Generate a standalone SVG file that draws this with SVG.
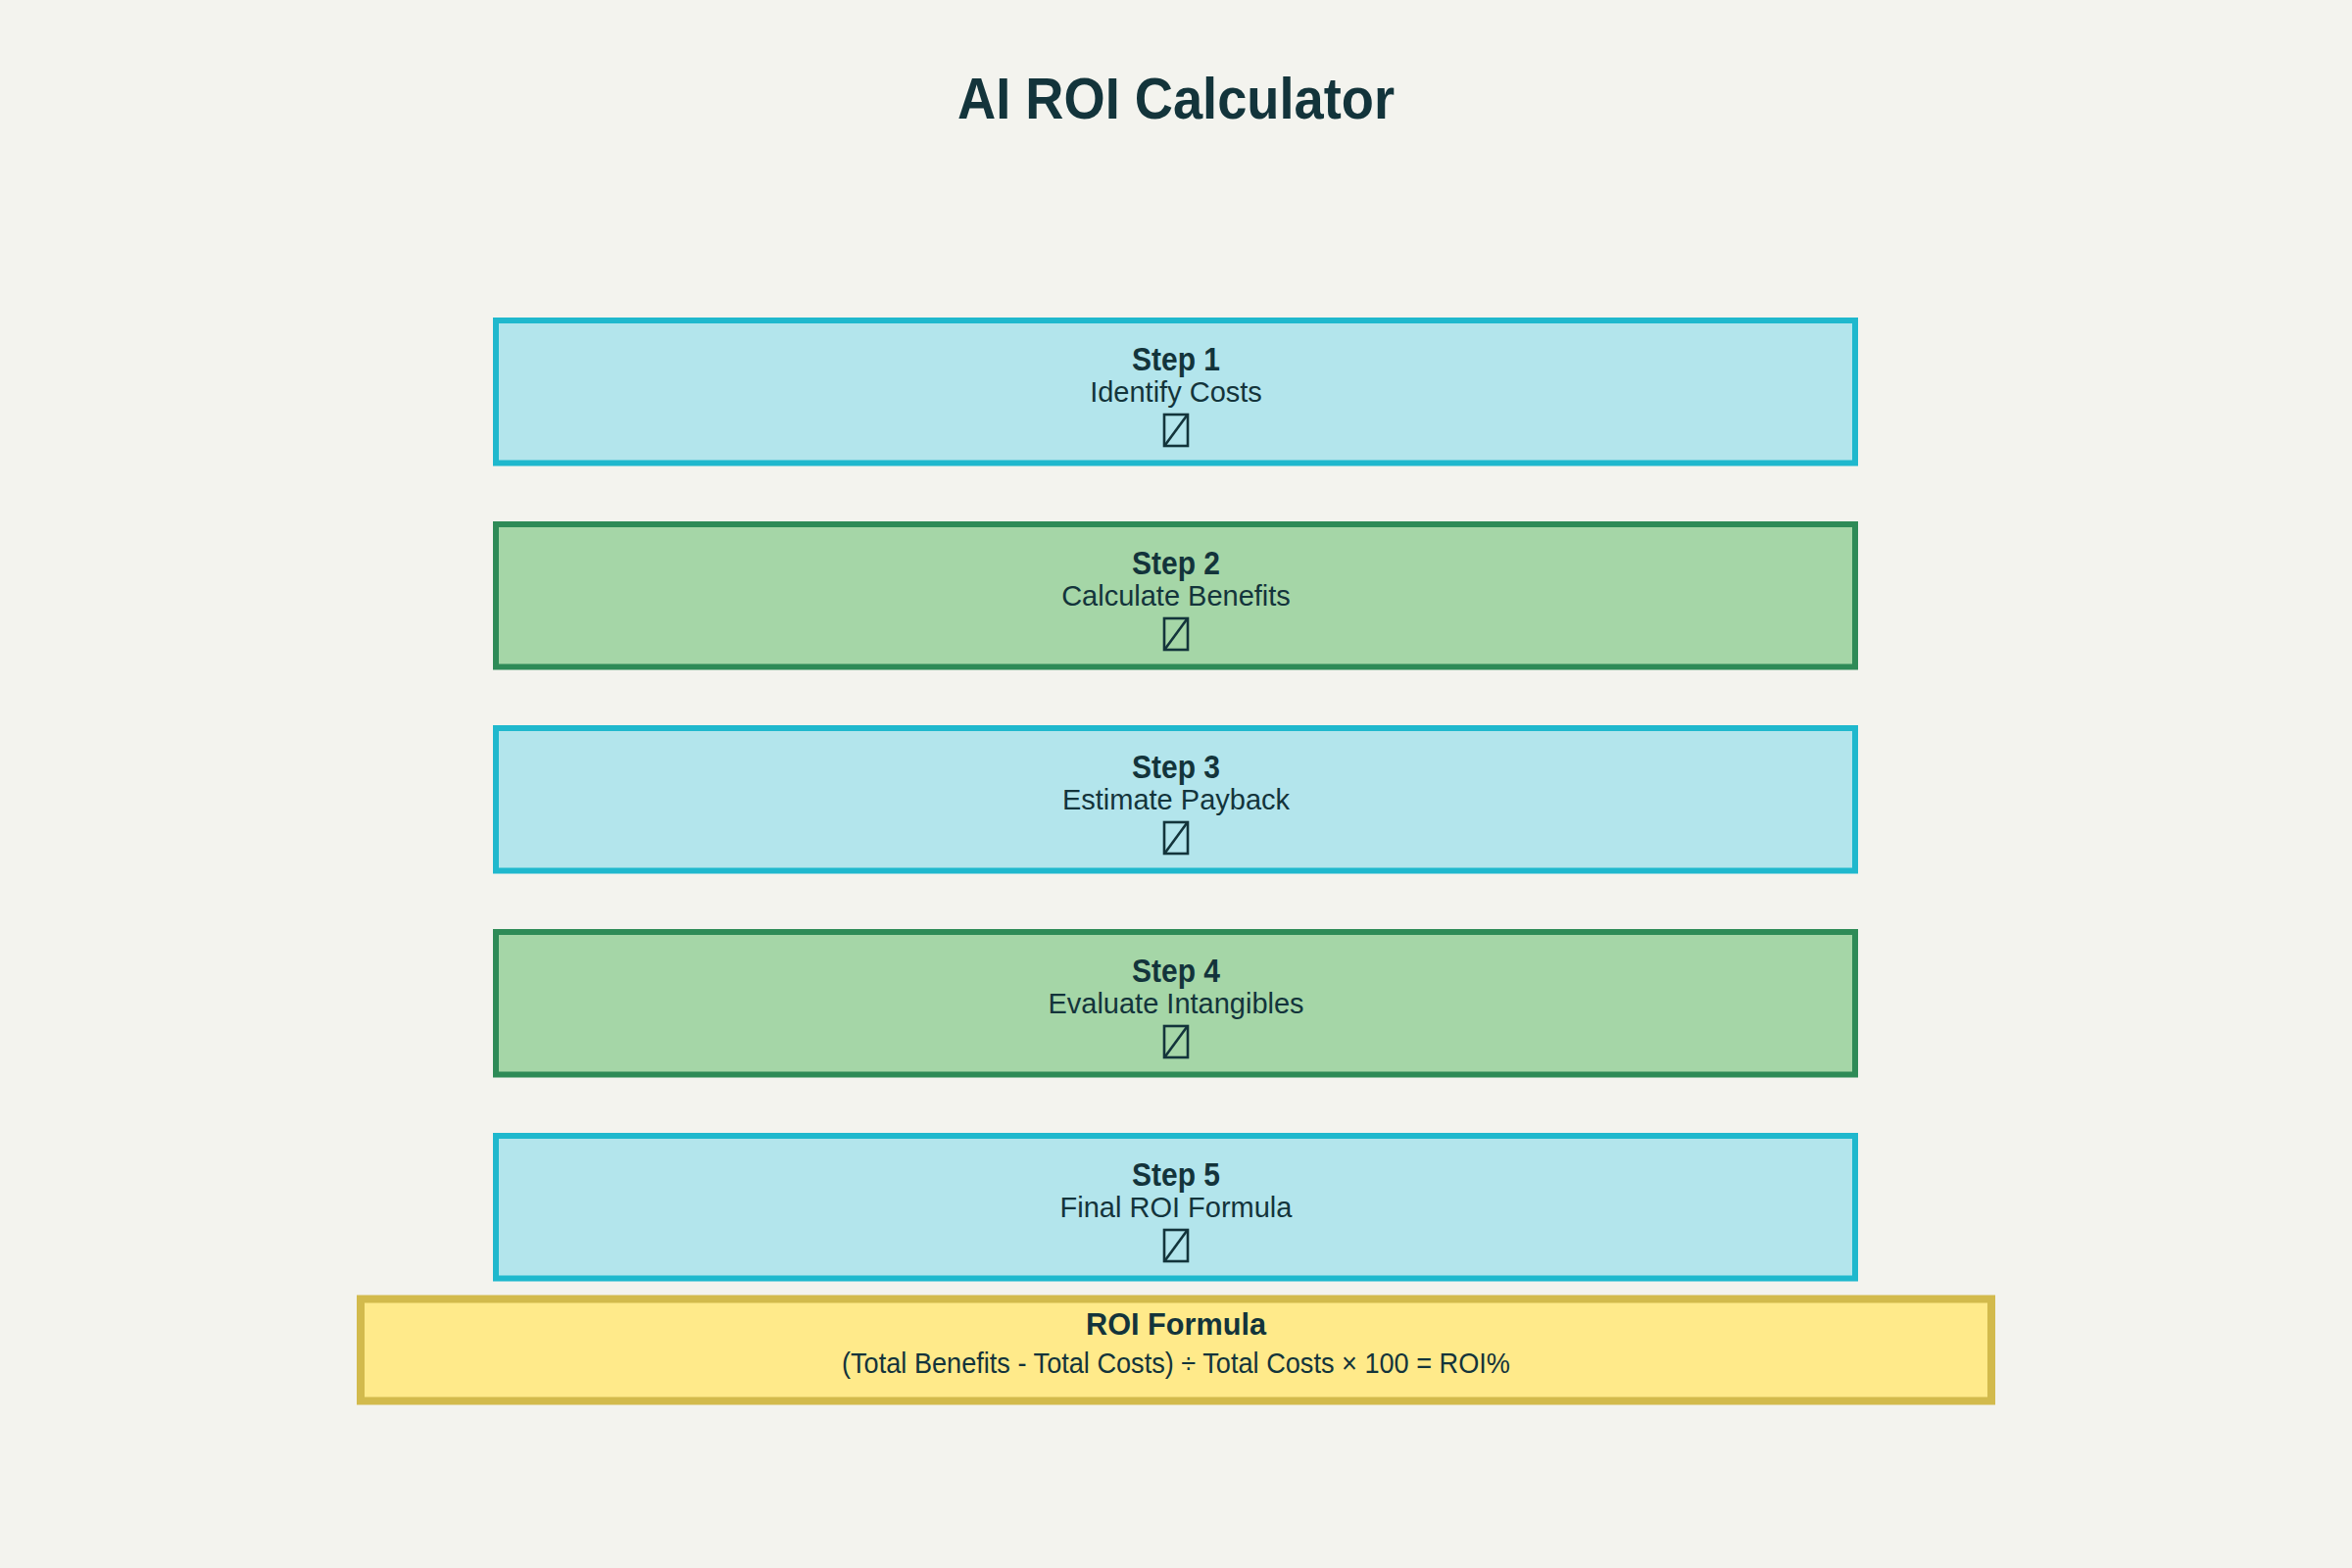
<svg xmlns="http://www.w3.org/2000/svg" width="2400" height="1600" viewBox="0 0 2400 1600">
<style>
.t{font-family:"Liberation Sans",Arial,sans-serif;fill:#13343B;text-anchor:middle}
.h{font-weight:bold;font-size:33px}
.s{font-size:29px}
.blue{fill:#B3E5EC;stroke:#1FB8CD;stroke-width:6}
.green{fill:#A5D6A7;stroke:#2E8B57;stroke-width:6}
.yellow{fill:#FFEA8A;stroke:#D2BA4C;stroke-width:8}
.tofu{fill:none;stroke:#13343B;stroke-width:2.6}
</style>
<defs>
<g id="tofu"><rect class="tofu" x="-12" y="-32" width="24" height="32"/><line class="tofu" x1="-11" y1="-1" x2="11" y2="-31"/></g>
</defs>
<rect width="2400" height="1600" fill="#F3F3EE"/>
<text class="t" x="1200" y="121" font-size="60" font-weight="bold" textLength="446" lengthAdjust="spacingAndGlyphs">AI ROI Calculator</text>
<g id="connectors"></g>
<g id="step1">
<rect class="blue" x="506" y="327" width="1387" height="145.5"/>
<text class="t h" x="1200" y="377.5" textLength="90" lengthAdjust="spacingAndGlyphs">Step 1</text>
<text class="t s" x="1200" y="409.5">Identify Costs</text>
<use href="#tofu" x="1200" y="455"/>
</g>
<g id="step2">
<rect class="green" x="506" y="535" width="1387" height="145.5"/>
<text class="t h" x="1200" y="585.5" textLength="90" lengthAdjust="spacingAndGlyphs">Step 2</text>
<text class="t s" x="1200" y="617.5">Calculate Benefits</text>
<use href="#tofu" x="1200" y="663"/>
</g>
<g id="step3">
<rect class="blue" x="506" y="743" width="1387" height="145.5"/>
<text class="t h" x="1200" y="793.5" textLength="90" lengthAdjust="spacingAndGlyphs">Step 3</text>
<text class="t s" x="1200" y="825.5">Estimate Payback</text>
<use href="#tofu" x="1200" y="871"/>
</g>
<g id="step4">
<rect class="green" x="506" y="951" width="1387" height="145.5"/>
<text class="t h" x="1200" y="1001.5" textLength="90" lengthAdjust="spacingAndGlyphs">Step 4</text>
<text class="t s" x="1200" y="1033.5">Evaluate Intangibles</text>
<use href="#tofu" x="1200" y="1079"/>
</g>
<g id="step5">
<rect class="blue" x="506" y="1159" width="1387" height="145.5"/>
<text class="t h" x="1200" y="1209.5" textLength="90" lengthAdjust="spacingAndGlyphs">Step 5</text>
<text class="t s" x="1200" y="1241.5">Final ROI Formula</text>
<use href="#tofu" x="1200" y="1287"/>
</g>
<g id="formula">
<rect class="yellow" x="368" y="1325.5" width="1664" height="104"/>
<text class="t" x="1200" y="1362" font-size="32" font-weight="bold" textLength="184" lengthAdjust="spacingAndGlyphs">ROI Formula</text>
<text class="t s" x="1200" y="1401" textLength="682" lengthAdjust="spacingAndGlyphs">(Total Benefits - Total Costs) ÷ Total Costs × 100 = ROI%</text>
</g>
</svg>
